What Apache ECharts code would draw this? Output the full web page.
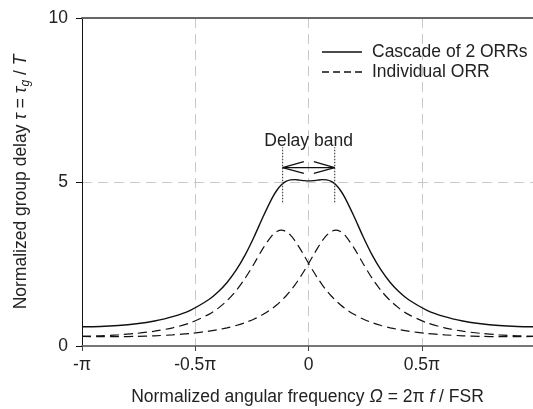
<!DOCTYPE html>
<html><head><meta charset="utf-8">
<script src="https://cdn.jsdelivr.net/npm/echarts@6/dist/echarts.min.js"></script>
<style>html,body{margin:0;padding:0;background:#fff}#c{width:533px;height:409px}</style>
</head><body><div id="c"></div>
<script>
// Normalized angular frequency, in units of π
const omega = [-1, -0.92, -0.84, -0.76, -0.68, -0.6, -0.52, -0.44, -0.4, -0.36, -0.32, -0.28, -0.24, -0.2, -0.16, -0.14, -0.12, -0.1, -0.08, -0.06, -0.04, -0.02, 0,
  0.02, 0.04, 0.06, 0.08, 0.1, 0.12, 0.14, 0.16, 0.2, 0.24, 0.28, 0.32, 0.36, 0.4, 0.44, 0.52, 0.6, 0.68, 0.76, 0.84, 0.92, 1];
// Cascade of 2 ORRs
const cascade = [0.586, 0.595, 0.624, 0.678, 0.763, 0.894, 1.097, 1.417, 1.645, 1.937, 2.310, 2.778, 3.340, 3.957, 4.525, 4.748, 4.914, 5.016, 5.064, 5.071, 5.058, 5.042, 5.034,
  5.042, 5.058, 5.071, 5.064, 5.016, 4.914, 4.748, 4.525, 3.957, 3.340, 2.778, 2.310, 1.937, 1.645, 1.417, 1.097, 0.894, 0.763, 0.678, 0.624, 0.595, 0.586];
// Individual ORR (resonance at negative frequency)
const orrA = [0.293, 0.311, 0.340, 0.385, 0.452, 0.554, 0.712, 0.965, 1.147, 1.383, 1.686, 2.066, 2.517, 2.992, 3.378, 3.491, 3.531, 3.491, 3.378, 3.205, 2.992, 2.757, 2.517,
  2.285, 2.066, 1.866, 1.686, 1.525, 1.383, 1.257, 1.147, 0.965, 0.823, 0.712, 0.624, 0.554, 0.498, 0.452, 0.385, 0.340, 0.311, 0.293, 0.284, 0.284, 0.293];
// Individual ORR (resonance at positive frequency)
const orrB = [0.293, 0.284, 0.284, 0.293, 0.311, 0.340, 0.385, 0.452, 0.498, 0.554, 0.624, 0.712, 0.823, 0.965, 1.147, 1.257, 1.383, 1.525, 1.686, 1.866, 2.066, 2.285, 2.517,
  2.757, 2.992, 3.205, 3.378, 3.491, 3.531, 3.491, 3.378, 2.992, 2.517, 2.066, 1.686, 1.383, 1.147, 0.965, 0.712, 0.554, 0.452, 0.385, 0.340, 0.311, 0.293];
const xTickLabels = {'-1': '-π', '-0.5': '-0.5π', '0': '0', '0.5': '0.5π'};
const yTickLabels = {'0': '0', '5': '5', '10': '10'};
// Delay band annotation (data units)
const bandEdges = [-0.115, 0.115];
const bandDotted = [4.38, 6.06];
const bandArrowY = 5.44;
const arrowHeadX = [-0.021, 0.023];
const arrowHeadHalf = 0.18;
const bandLabel = 'Delay band';
const bandLabelY = 6.25;

const FONT = "'Liberation Sans', Arial, Helvetica, sans-serif";
const FS = 17.5;
const chart = echarts.init(document.getElementById('c'), null, {renderer: 'canvas'});

const pts = arr => omega.map((x, i) => [x, arr[i]]);
const annot = (data, type) => ({
  type: 'line', data, symbol: 'none', silent: true, animation: false, z: 5,
  lineStyle: {color: type === 'dotted' ? '#444' : '#111', width: type === 'dotted' ? 1.2 : 1.3, type: type === 'dotted' ? [1.5, 1.5] : 'solid'}
});
const solidIcon = 'path://M0,0H40V1.4H0Z';
const dashIcon = 'path://M0,0H7V1.3H0Z M11,0H18V1.3H11Z M22,0H29V1.3H22Z M33,0H40V1.3H33Z';

const option = {
  animation: false,
  backgroundColor: '#fff',
  grid: {left: 82, right: 0, top: 18, bottom: 63, containLabel: false, outerBoundsMode: 'none'},
  xAxis: [{
    type: 'value', min: -1, max: 0.99, interval: 0.5,
    axisLine: {onZero: false, lineStyle: {color: '#777', width: 2}},
    axisTick: {show: true, length: 5, lineStyle: {color: '#444'}},
    axisLabel: {margin: 10, fontSize: FS, color: '#222', fontFamily: FONT,
      formatter: v => xTickLabels[String(v)] !== undefined ? xTickLabels[String(v)] : ''},
    splitLine: {show: true, lineStyle: {color: '#c8c8c8', type: [10, 6], width: 1}},
    name: 'Normalized angular frequency {i|Ω} = 2π {i|f} / FSR',
    nameLocation: 'middle', nameGap: 42,
    nameTextStyle: {fontSize: FS, color: '#222', fontFamily: FONT,
      rich: {i: {fontStyle: 'italic', fontSize: FS, color: '#222', fontFamily: FONT}}}
  }, {
    type: 'value', position: 'top', min: -1, max: 0.99,
    axisLine: {show: true, onZero: false, lineStyle: {color: '#666', width: 2}},
    axisTick: {show: false}, axisLabel: {show: false}, splitLine: {show: false}
  }],
  yAxis: {
    type: 'value', min: 0, max: 10, interval: 5,
    axisLine: {show: true, onZero: false, lineStyle: {color: '#111', width: 1}},
    axisTick: {show: true, length: 6, lineStyle: {color: '#111'}},
    axisLabel: {margin: 14, fontSize: FS, color: '#222', fontFamily: FONT,
      formatter: v => yTickLabels[String(v)] || ''},
    splitLine: {show: true, lineStyle: {color: '#c8c8c8', type: [10, 6], width: 1}},
    name: 'Normalized group delay {i|τ} = {i|τ}{sub|g} / {i|T}',
    nameLocation: 'middle', nameGap: 50, nameRotate: 90,
    nameTextStyle: {fontSize: FS, color: '#222', fontFamily: FONT,
      rich: {
        i: {fontStyle: 'italic', fontSize: FS, color: '#222', fontFamily: FONT},
        sub: {fontStyle: 'italic', fontSize: 12, color: '#222', fontFamily: FONT, padding: [9, 0, 0, 0]}
      }}
  },
  legend: {
    data: [{name: 'Cascade of 2 ORRs', icon: solidIcon}, {name: 'Individual ORR', icon: dashIcon}],
    orient: 'vertical', left: 322, top: 43, padding: 0, itemWidth: 40, itemHeight: 14, itemGap: 2,
    textStyle: {fontSize: FS, color: '#222', fontFamily: FONT, padding: [0, 0, 0, 5]},
    selectedMode: false
  },
  series: [
    {name: 'Cascade of 2 ORRs', type: 'line', data: pts(cascade), symbol: 'none', smooth: 0.3,
      lineStyle: {color: '#111', width: 1.4}, itemStyle: {color: '#111'}, z: 4},
    {name: 'Individual ORR', type: 'line', data: pts(orrA), symbol: 'none', smooth: 0.3,
      lineStyle: {color: '#111', width: 1.2, type: [9, 5]}, itemStyle: {color: '#111'}, z: 3},
    {name: 'Individual ORR', type: 'line', data: pts(orrB), symbol: 'none', smooth: 0.3,
      lineStyle: {color: '#111', width: 1.2, type: [9, 5]}, itemStyle: {color: '#111'}, z: 3},
    annot([[bandEdges[0], bandDotted[0]], [bandEdges[0], bandDotted[1]]], 'dotted'),
    annot([[bandEdges[1], bandDotted[0]], [bandEdges[1], bandDotted[1]]], 'dotted'),
    annot([[bandEdges[0], bandArrowY], [bandEdges[1], bandArrowY]], 'solid'),
    annot([[arrowHeadX[0], bandArrowY + arrowHeadHalf], [bandEdges[0], bandArrowY], [arrowHeadX[0], bandArrowY - arrowHeadHalf]], 'solid'),
    annot([[arrowHeadX[1], bandArrowY + arrowHeadHalf], [bandEdges[1], bandArrowY], [arrowHeadX[1], bandArrowY - arrowHeadHalf]], 'solid'),
    {type: 'scatter', data: [[0, bandLabelY]], symbolSize: 1, silent: true, z: 6,
      itemStyle: {opacity: 0},
      label: {show: true, position: 'inside', formatter: bandLabel, fontSize: FS, color: '#222',
        fontFamily: FONT, textBorderWidth: 0, opacity: 1}}
  ]
};
chart.setOption(option);
</script>
</body></html>
